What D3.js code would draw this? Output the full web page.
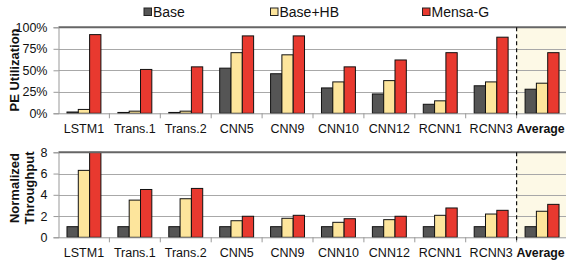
<!DOCTYPE html>
<html>
<head>
<meta charset="utf-8">
<script src="https://cdn.jsdelivr.net/npm/d3@7"></script>
<style>
  body { margin: 0; background: #fff; }
  svg { display: block; font-family: "Liberation Sans", Arial, sans-serif; }
</style>
</head>
<body>
<div id="chart"></div>
<script>
(function() {
    "use strict";

    var categories = ["LSTM1", "Trans.1", "Trans.2", "CNN5", "CNN9", "CNN10", "CNN12", "RCNN1", "RCNN3", "Average"];
    var seriesNames = ["Base", "Base+HB", "Mensa-G"];
    var seriesColors = ["#555555", "#fde59c", "#e8392f"];

    // PE utilization (%)
    var utilBase = [1.5, 1, 1, 52.5, 46, 29.5, 22.5, 10.5, 32, 28];
    var utilHB = [4.5, 2.5, 2.5, 70.5, 68, 36.5, 38, 14.5, 36.5, 35];
    var utilMensa = [91.5, 51, 54, 90, 90, 54, 62, 70.5, 88.5, 70.5];
    var utilTicks = [0, 25, 50, 75, 100];

    // normalized throughput
    var thrBase = [1, 1, 1, 1, 1, 1, 1, 1, 1, 1];
    var thrHB = [6.3, 3.5, 3.63, 1.56, 1.79, 1.41, 1.66, 2.07, 2.19, 2.45];
    var thrMensa = [8, 4.5, 4.6, 1.98, 2.07, 1.75, 1.98, 2.76, 2.54, 3.1];
    var thrTicks = [0, 2, 4, 6, 8];

    var W = 566, H = 261;
    var left = 58.5, right = 567.5;

    var svg = d3.select("#chart").append("svg")
        .attr("width", W).attr("height", H)
        .attr("viewBox", "0 0 " + W + " " + H);

    var x = d3.scaleBand().domain(categories).range([left, right]);
    var xs = d3.scaleBand().domain(seriesNames).range([0, x.bandwidth()])
        .paddingOuter(0.75).paddingInner(0);

    // legend
    var legendX = [144, 270.5, 422.5];
    seriesNames.forEach(function(name, i) {
        var g = svg.append("g").attr("transform", "translate(" + legendX[i] + ",8)");
        g.append("rect").attr("width", 7.5).attr("height", 7.5)
            .attr("fill", seriesColors[i]).attr("stroke", "#222").attr("stroke-width", 1);
        g.append("text").attr("x", 9).attr("y", 8.5)
            .attr("font-size", 14).attr("fill", "#111").text(name);
    });

    function panel(top, bottom, maxV, ticks, fmt, data, labelLines, labelY) {
        var y = d3.scaleLinear().domain([0, maxV]).range([bottom, top]);
        var g = svg.append("g");
        var avgX = x("Average");

        // average highlight
        g.append("rect").attr("x", avgX).attr("y", top)
            .attr("width", right - avgX).attr("height", bottom - top)
            .attr("fill", "#fdf9e6");

        // gridlines
        g.selectAll(".grid").data(ticks.slice(1, -1)).enter().append("line")
            .attr("x1", left).attr("x2", right)
            .attr("y1", function(d) { return Math.round(y(d)) + 0.5; })
            .attr("y2", function(d) { return Math.round(y(d)) + 0.5; })
            .attr("stroke", "#a8a8a8").attr("stroke-width", 1);

        // bars
        categories.forEach(function(c, ci) {
            seriesNames.forEach(function(s, si) {
                var v = Math.min(data[si][ci], maxV);
                g.append("rect")
                    .attr("x", x(c) + xs(s))
                    .attr("y", y(v))
                    .attr("width", xs.bandwidth())
                    .attr("height", bottom - y(v))
                    .attr("fill", seriesColors[si])
                    .attr("stroke", "#111").attr("stroke-width", 1);
            });
        });

        // top frame line
        g.append("line").attr("x1", left).attr("x2", right)
            .attr("y1", top).attr("y2", top)
            .attr("stroke", "#666").attr("stroke-width", 2);

        // y axis
        var yAxis = d3.axisLeft(y).tickValues(ticks).tickSize(5).tickPadding(6).tickFormat(fmt);
        var ya = g.append("g").attr("transform", "translate(" + left + ",0)").call(yAxis);
        ya.select(".domain").attr("stroke", "#999");
        ya.selectAll(".tick line").attr("stroke", "#999");
        ya.selectAll("text").attr("font-size", 12.5).attr("fill", "#111")
            .attr("font-family", "Liberation Sans, Arial, sans-serif");

        // x axis
        var xa = g.append("g").attr("transform", "translate(0," + bottom + ")");
        xa.append("line").attr("x1", left).attr("x2", right).attr("y1", 0.5).attr("y2", 0.5)
            .attr("stroke", "#999").attr("stroke-width", 1);
        xa.selectAll(".sep").data(categories.slice(1)).enter().append("line")
            .attr("x1", function(d) { return x(d); }).attr("x2", function(d) { return x(d); })
            .attr("y1", 0).attr("y2", 5).attr("stroke", "#999");
        xa.selectAll(".lab").data(categories).enter().append("text")
            .attr("x", function(d) { return d === "Average" ? x(d) : x(d) + x.bandwidth() / 2; })
            .attr("y", 20)
            .attr("text-anchor", function(d) { return d === "Average" ? "start" : "middle"; })
            .attr("font-size", function(d) { return d === "Average" ? 12.3 : 12.5; })
            .attr("font-weight", function(d) { return d === "Average" ? "bold" : "normal"; })
            .attr("fill", "#111")
            .text(function(d) { return d; });

        // dashed separator before Average
        g.append("line").attr("x1", avgX).attr("x2", avgX)
            .attr("y1", top).attr("y2", bottom + 5)
            .attr("stroke", "#111").attr("stroke-width", 1.2)
            .attr("stroke-dasharray", "4,3");

        // y label
        labelLines.forEach(function(t, i) {
            var lx = labelLines.length > 1 ? 19 + i * 15 : 19;
            g.append("text")
                .attr("transform", "translate(" + lx + "," + labelY + ") rotate(-90)")
                .attr("text-anchor", "middle")
                .attr("font-size", 13).attr("font-weight", "bold").attr("fill", "#111")
                .text(t);
        });
    }

    panel(27.3, 113.3, 100, utilTicks, function(d) { return d + "%"; },
        [utilBase, utilHB, utilMensa], ["PE Utilization"], 70);
    panel(152.3, 237.3, 8, thrTicks, function(d) { return d; },
        [thrBase, thrHB, thrMensa], ["Normalized", "Throughput"], 188);
}());
</script>
</body>
</html>
